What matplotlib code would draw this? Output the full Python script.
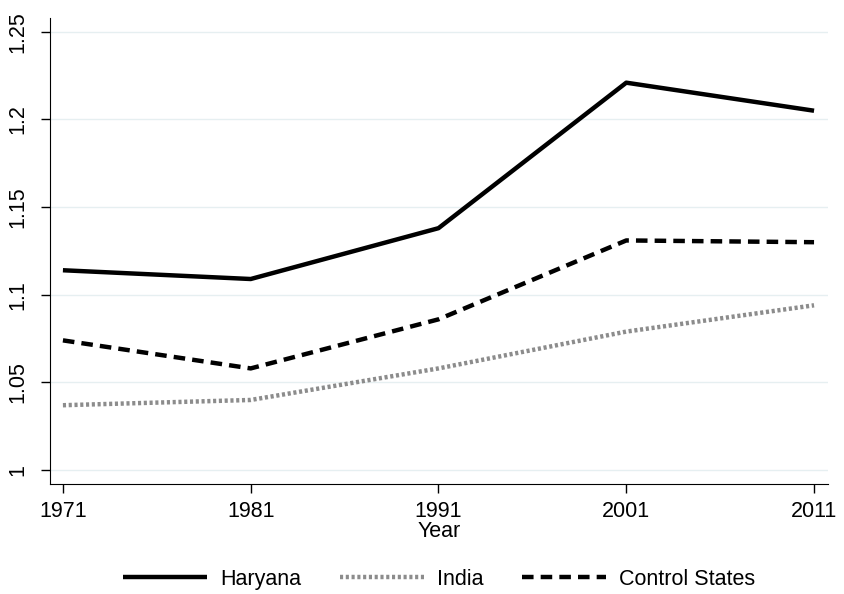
import matplotlib
matplotlib.use("Agg")
import matplotlib.pyplot as plt

# values
years = [1971, 1981, 1991, 2001, 2011]
haryana = [1.114, 1.109, 1.138, 1.221, 1.205]
india = [1.037, 1.040, 1.058, 1.079, 1.094]
control = [1.074, 1.058, 1.086, 1.131, 1.130]
yticks = [1, 1.05, 1.1, 1.15, 1.2, 1.25]
ytick_labels = ["1", "1.05", "1.1", "1.15", "1.2", "1.25"]

plt.rcParams['font.family'] = ['Liberation Sans', 'DejaVu Sans']

fig = plt.figure(figsize=(8.44, 5.94), dpi=100)
ax = fig.add_axes([0.0592, 0.185, 0.922, 0.785])

ax.plot(years, haryana, color='black', lw=3.2, solid_capstyle='butt', label='Haryana')
ax.plot(years, india, color='#8c8c8c', lw=3.2, linestyle=(0, (0.7, 0.6)), label='India')
ax.plot(years, control, color='black', lw=3.2, linestyle=(0, (2.6, 1.6)), label='Control States')

ax.set_xlim(1970.31, 2011.75)
ax.set_ylim(0.992, 1.258)
ax.set_xticks(years)
ax.set_yticks(yticks)
ax.set_yticklabels(ytick_labels, rotation=90, va='center')
ax.tick_params(labelsize=15.5, length=6.5, width=1, colors='black')
ax.tick_params(axis='x', pad=6)
ax.tick_params(axis='y', pad=9)
ax.grid(axis='y', color='#e6eff1', lw=1)
ax.set_axisbelow(True)
for s in ['top', 'right']:
    ax.spines[s].set_visible(False)
ax.set_xlabel("Year", fontsize=15.5, labelpad=-1)

leg = ax.legend(loc='upper center', bbox_to_anchor=(0.5, -0.14), ncol=3, frameon=False,
                fontsize=15.5, handlelength=3.9, handletextpad=0.6, columnspacing=1.8)

fig.savefig("out.png", dpi=100)
